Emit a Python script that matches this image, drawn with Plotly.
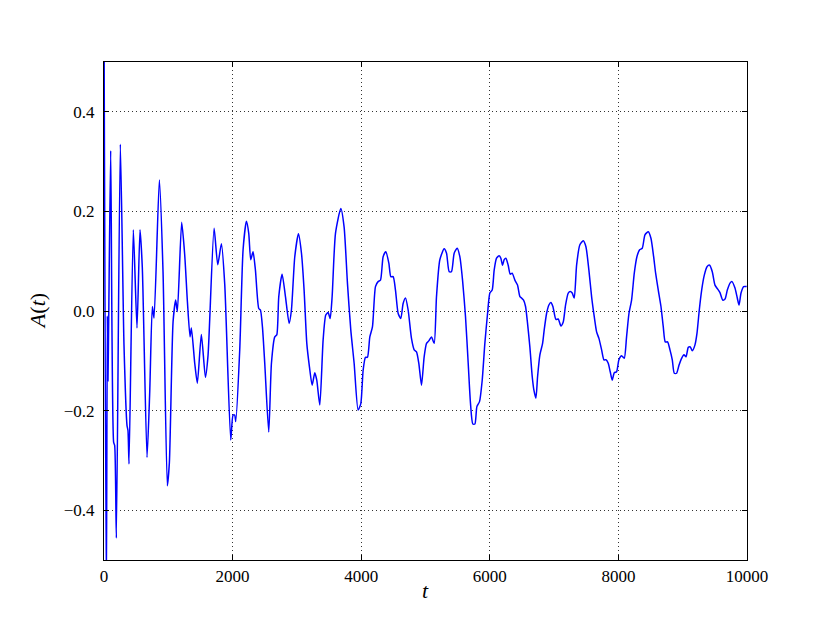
import plotly.graph_objects as go

# t values and A(t)
t = [0, 36, 52, 62, 73, 104, 150, 166, 192, 254, 311, 358, 373, 389, 456, 513, 560, 596,
     669, 711, 752, 778, 861, 918, 985, 1017, 1074, 1115, 1141, 1208, 1255, 1297, 1338, 1359,
     1411, 1452, 1514, 1577, 1618, 1712, 1769, 1826, 1878, 1971, 2007, 2033, 2049, 2111, 2163,
     2215, 2251, 2282, 2318, 2355, 2407, 2433, 2464, 2500, 2562, 2604, 2656, 2687, 2718, 2770,
     2822, 2879, 2915, 2967, 3024, 3071, 3112, 3154, 3195, 3237, 3278, 3309, 3356, 3408, 3449,
     3485, 3517, 3548, 3600, 3683, 3734, 3786, 3838, 3890, 3952, 3994, 4030, 4066, 4097, 4134,
     4175, 4222, 4263, 4300, 4341, 4383, 4430, 4461, 4497, 4533, 4575, 4616, 4652, 4689, 4730,
     4782, 4824, 4860, 4896, 4938, 4979, 5016, 5052, 5093, 5135, 5171, 5223, 5290, 5327, 5368,
     5404, 5446, 5493, 5534, 5576, 5622, 5664, 5700, 5736, 5768, 5799, 5840, 5882, 5923, 5965,
     6001, 6037, 6068, 6105, 6146, 6172, 6198, 6224, 6250, 6286, 6317, 6348, 6390, 6431, 6468,
     6494, 6525, 6556, 6587, 6623, 6660, 6686, 6717, 6743, 6779, 6821, 6846, 6883, 6919, 6950,
     6981, 7028, 7064, 7106, 7142, 7178, 7220, 7251, 7282, 7313, 7350, 7401, 7453, 7495, 7541,
     7583, 7624, 7661, 7697, 7739, 7775, 7811, 7842, 7873, 7904, 7936, 7972, 8008, 8050, 8091,
     8127, 8164, 8205, 8247, 8288, 8330, 8371, 8413, 8465, 8506, 8548, 8579, 8620, 8662, 8698,
     8729, 8765, 8802, 8838, 8869, 8905, 8942, 8983, 9020, 9051, 9087, 9118, 9149, 9191, 9222,
     9258, 9295, 9336, 9378, 9419, 9460, 9502, 9544, 9580, 9622, 9658, 9694, 9736, 9767, 9813,
     9849, 9876, 9907, 9948, 9995]
A = [0.6, -0.6, -0.01, -0.14, -0.02, 0.322, -0.264, -0.27, -0.456, 0.335, -0.069, -0.23, -0.24,
     -0.307, 0.163, -0.034, 0.163, 0.087, -0.294, -0.163, 0.009, -0.014, 0.263, 0.079, -0.351,
     -0.304, -0.022, 0.022, -0.001, 0.178, 0.113, 0.019, -0.052, -0.034, -0.105, -0.145, -0.047,
     -0.133, -0.089, 0.166, 0.093, 0.135, 0.053, -0.259, -0.209, -0.209, -0.222, -0.078, 0.123,
     0.18, 0.156, 0.103, 0.119, 0.082, 0.005, 0.002, -0.032, -0.105, -0.243, -0.105, -0.052,
     -0.048, 0.029, 0.074, 0.029, -0.025, 0.002, 0.109, 0.155, 0.116, 0.042, -0.065, -0.112,
     -0.149, -0.124, -0.139, -0.189, -0.058, -0.008, -0.003, -0.015, 0.029, 0.156, 0.206, 0.169,
     0.056, -0.038, -0.105, -0.199, -0.186, -0.119, -0.093, -0.093, -0.052, -0.032, 0.049, 0.059,
     0.062, 0.109, 0.119, 0.096, 0.069, 0.069, 0.042, -0.005, -0.015, 0.015, 0.026, 0.002, -0.055,
     -0.078, -0.082, -0.105, -0.149, -0.092, -0.065, -0.06, -0.052, -0.065, 0.029, 0.103, 0.125,
     0.116, 0.079, 0.079, 0.116, 0.126, 0.109, 0.062, -0.011, -0.105, -0.186, -0.227, -0.227,
     -0.192, -0.182, -0.139, -0.065, -0.005, 0.036, 0.042, 0.082, 0.106, 0.111, 0.106, 0.092,
     0.103, 0.106, 0.092, 0.074, 0.076, 0.062, 0.052, 0.029, 0.026, 0.022, 0.009, -0.025, -0.072,
     -0.132, -0.159, -0.175, -0.132, -0.088, -0.065, -0.038, -0.005, 0.012, 0.017, 0.009, -0.017,
     -0.016, -0.03, -0.022, 0.012, 0.036, 0.039, 0.036, 0.026, 0.092, 0.133, 0.141, 0.129, 0.082,
     0.029, -0.011, -0.042, -0.055, -0.078, -0.098, -0.098, -0.105, -0.122, -0.139, -0.124,
     -0.122, -0.098, -0.09, -0.095, -0.052, -0.005, 0.022, 0.076, 0.109, 0.123, 0.126, 0.153,
     0.159, 0.146, 0.109, 0.076, 0.042, 0.009, -0.032, -0.062, -0.062, -0.078, -0.098, -0.125,
     -0.125, -0.109, -0.095, -0.088, -0.092, -0.073, -0.072, -0.08, -0.068, -0.045, 0.002, 0.042,
     0.072, 0.089, 0.092, 0.079, 0.052, 0.044, 0.037, 0.022, 0.024, 0.042, 0.056, 0.059, 0.046,
     0.026, 0.012, 0.036, 0.049, 0.049]

x_ticks = [0, 2000, 4000, 6000, 8000, 10000]
y_ticks = [-0.4, -0.2, 0.0, 0.2, 0.4]
y_labels = ["\u22120.4", "\u22120.2", "0.0", "0.2", "0.4"]

serif = "Liberation Serif, Times New Roman, serif"

fig = go.Figure()
fig.add_trace(go.Scatter(
    x=t, y=A, mode="lines",
    line=dict(color="#0000ff", width=1.5, shape="spline", smoothing=0.6),
    showlegend=False,
))

axis_common = dict(
    showline=True, linecolor="black", linewidth=1.2, mirror="allticks",
    ticks="inside", ticklen=5, tickcolor="black", tickwidth=1,
    showgrid=True, gridcolor="#333333", griddash="1px,3px", gridwidth=1,
    zeroline=False, tickfont=dict(family=serif, size=17, color="black"),
)

fig.update_xaxes(range=[0, 10000], tickvals=x_ticks, ticktext=[str(v) for v in x_ticks],
                 ticklabelstandoff=0, **axis_common)
fig.update_yaxes(range=[-0.5, 0.5], tickvals=y_ticks, ticktext=y_labels,
                 ticklabelstandoff=5, **axis_common)

# the page body adds 8px, so margins are trimmed to land the axes where the reference has them
fig.update_layout(
    width=830, height=623,
    margin=dict(l=96, r=91, t=54, b=71),
    paper_bgcolor="white", plot_bgcolor="white",
    annotations=[
        dict(text="<i>t</i>", x=0.5, y=-0.062, xref="paper", yref="paper",
             xanchor="center", yanchor="middle", showarrow=False,
             font=dict(family=serif, size=22, color="black")),
        dict(text="<i>A</i>(<i>t</i>)", x=-0.104, y=0.5, xref="paper", yref="paper",
             xanchor="center", yanchor="middle", textangle=-90, showarrow=False,
             font=dict(family=serif, size=22, color="black")),
    ],
)

fig.write_html("out.html")
